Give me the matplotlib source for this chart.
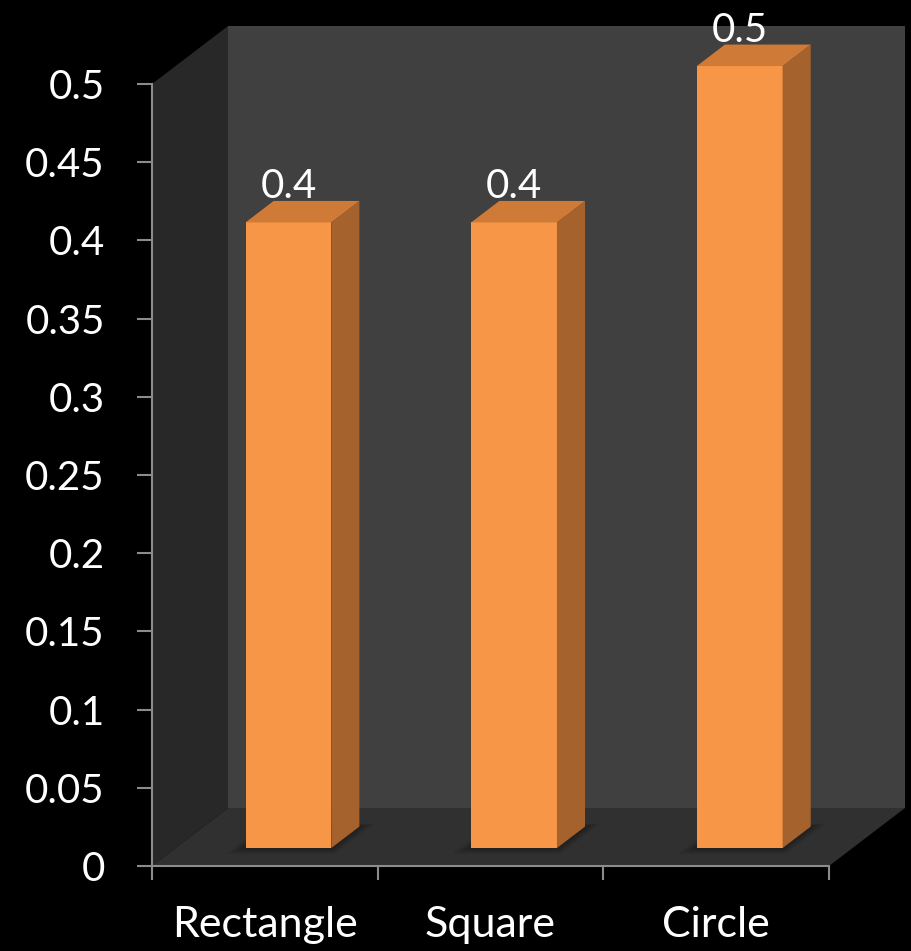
import matplotlib
matplotlib.use("Agg")
import matplotlib.pyplot as plt
from matplotlib.patches import Polygon

categories = ["Rectangle", "Square", "Circle"]
values = [0.4, 0.4, 0.5]
value_labels = ["0.4", "0.4", "0.5"]
y_ticks = [0, 0.05, 0.1, 0.15, 0.2, 0.25, 0.3, 0.35, 0.4, 0.45, 0.5]
y_tick_labels = ["0", "0.05", "0.1", "0.15", "0.2", "0.25", "0.3", "0.35", "0.4", "0.45", "0.5"]

plt.rcParams['font.family'] = ['Lato', 'DejaVu Sans']

fig = plt.figure(figsize=(9.11, 9.51), dpi=100, facecolor="black")
ax = fig.add_axes([152/911, 85/951, 677/911, 782/951])
ax.set_xlim(0, 3)
ax.set_ylim(0, 0.5)
ax.set_facecolor("none")

# fake 3d depth offset (front plane -> back wall), in data units
DX = 76/677*3
DY = 58/782*0.5

def depth(x, y, d):
    return (x + d*DX, y + d*DY)

def poly(pts, color, z):
    p = Polygon(pts, closed=True, facecolor=color, edgecolor="none", zorder=z, clip_on=False)
    ax.add_patch(p)

# walls and floor
poly([depth(0, 0, 1), depth(3, 0, 1), depth(3, 0.5, 1), depth(0, 0.5, 1)], "#404040", 0.1)
poly([(0, 0), (0, 0.5), depth(0, 0.5, 1), depth(0, 0, 1)], "#282828", 0.2)
poly([(0, 0), (3, 0), depth(3, 0, 1), depth(0, 0, 1)], "#303030", 0.3)

w = 0.38
d0, d1 = 0.31, 0.68
for i, v in enumerate(values):
    x0 = i + 0.5 - w/2
    x1 = i + 0.5 + w/2
    # soft shadow on the floor (a few stacked layers)
    for k, a in enumerate([0.08, 0.1, 0.12]):
        e = 0.05 - k*0.015
        poly([depth(x0 - e, 0, d0 - e*2), depth(x1 + e, 0, d0 - e*2),
              depth(x1 + e, 0, d1 + e), depth(x0 - e, 0, d1 + e)], (0, 0, 0, a), 0.4)
    poly([depth(x0, 0, d0), depth(x1, 0, d0), depth(x1, v, d0), depth(x0, v, d0)], "#F79646", 1)
    poly([depth(x1, 0, d0), depth(x1, 0, d1), depth(x1, v, d1), depth(x1, v, d0)], "#A5622C", 1)
    poly([depth(x0, v, d0), depth(x1, v, d0), depth(x1, v, d1), depth(x0, v, d1)], "#CF7A36", 1)
    ax.annotate(value_labels[i], xy=(i + 0.5 + d0*DX, v + d1*DY), xytext=(0, 2),
                textcoords="offset points", ha="center", va="baseline",
                color="white", fontsize=29, annotation_clip=False, zorder=5)

for s in ["top", "right"]:
    ax.spines[s].set_visible(False)
for s in ["left", "bottom"]:
    ax.spines[s].set_color("#8c8c8c")
    ax.spines[s].set_linewidth(1.5)
    ax.spines[s].set_zorder(3)

ax.set_yticks(y_ticks)
ax.set_yticklabels(y_tick_labels)
ax.tick_params(axis="y", colors="#8c8c8c", labelcolor="white", labelsize=29,
               length=11, width=1.5, pad=23)

ax.set_xticks([0, 1, 2, 3])
ax.set_xticklabels([])
ax.set_xticks([0.5, 1.5, 2.5], minor=True)
ax.set_xticklabels(categories, minor=True)
ax.tick_params(axis="x", which="major", colors="#8c8c8c", length=10, width=1.5)
ax.tick_params(axis="x", which="minor", length=0, labelcolor="white", labelsize=31, pad=29)

fig.savefig("out.png", dpi=100, facecolor="black")
